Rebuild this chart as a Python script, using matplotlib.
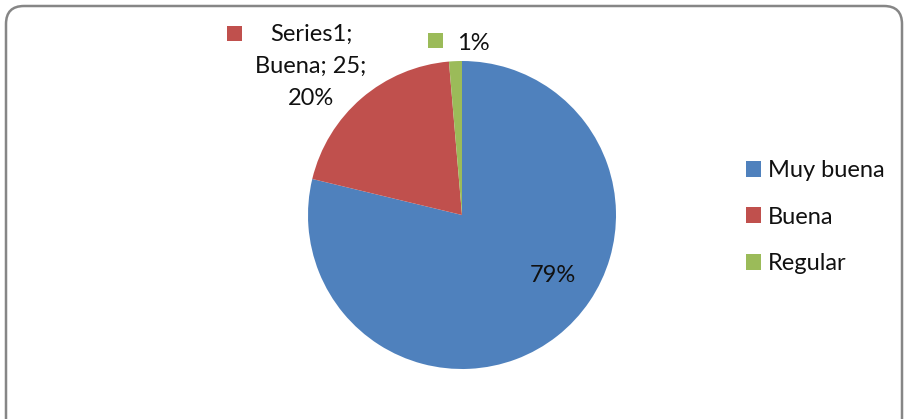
import matplotlib
matplotlib.use("Agg")
import matplotlib.pyplot as plt
from matplotlib.patches import FancyBboxPatch, Patch, Rectangle

categories = ["Muy buena", "Buena", "Regular"]
values = [99, 25, 1.7]
colors = ["#4F81BD", "#C0504D", "#9BBB59"]
series_name = "Series1"

plt.rcParams['font.family'] = ['Lato', 'DejaVu Sans']

W, H = 906, 419
fig = plt.figure(figsize=(W / 100, H / 100), dpi=100)
ax = fig.add_axes([0, 0, 1, 1])

total = sum(values)
pct = [v / total * 100 for v in values]

wedges, _ = ax.pie(values, colors=colors, startangle=90, counterclock=False,
                   center=(462, H - 215), radius=154, frame=True,
                   wedgeprops=dict(linewidth=0))
ax.set_xlim(0, W)
ax.set_ylim(0, H)
ax.axis('off')

# chart frame
frame = FancyBboxPatch((6, -30), 896, H - 6 + 30, boxstyle="round,pad=0,rounding_size=18",
                       fc="none", ec="#868686", lw=1.8, zorder=5)
ax.add_patch(frame)

fs = 17
tc = '#111111'
# data labels
ax.text(553, H - 275, f"{pct[0]:.0f}%", ha='center', va='center', fontsize=fs, color=tc)
ax.text(311, H - 66, f"{series_name};\n{categories[1]}; {values[1]:.0f};\n{pct[1]:.0f}%",
        ha='center', va='center', fontsize=fs, color=tc, linespacing=1.65)
ax.add_patch(Rectangle((227, H - 41), 15, 15, fc=colors[1], ec='none'))
ax.text(457, H - 43, f"{pct[2]:.0f}%", ha='left', va='center', fontsize=fs, color=tc)
ax.add_patch(Rectangle((428, H - 48), 15, 15, fc=colors[2], ec='none'))

# legend
handles = [Patch(facecolor=c, edgecolor='none') for c in colors]
leg = ax.legend(handles, categories, loc='upper left', bbox_to_anchor=(746 / W, 1 - 160 / H),
                frameon=False, fontsize=fs, handlelength=0.64, handleheight=0.64,
                handletextpad=0.3, labelspacing=1.08, borderaxespad=0, borderpad=0)
for t in leg.get_texts():
    t.set_color(tc)

fig.savefig("out.png", dpi=100)
